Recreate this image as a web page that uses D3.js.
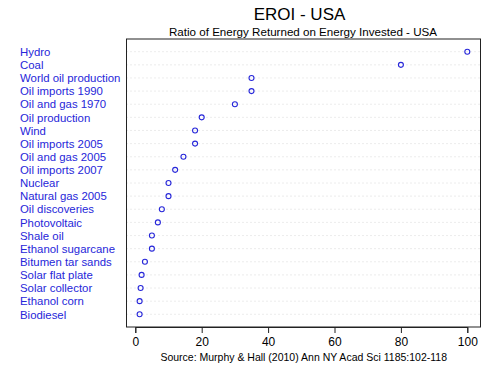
<!DOCTYPE html>
<html><head><meta charset="utf-8">
<script src="https://cdn.jsdelivr.net/npm/d3@7"></script>
<style>body{margin:0;background:#fff;} svg{display:block;font-family:"Liberation Sans",Arial,sans-serif;}</style>
</head><body><svg id="c" width="500" height="376"></svg>
<script>
const categories = ["Hydro","Coal","World oil production","Oil imports 1990","Oil and gas 1970","Oil production","Wind","Oil imports 2005","Oil and gas 2005","Oil imports 2007","Nuclear","Natural gas 2005","Oil discoveries","Photovoltaic","Shale oil","Ethanol sugarcane","Bitumen tar sands","Solar flat plate","Solar collector","Ethanol corn","Biodiesel"];
const eroi = [100,80,35,35,30,20,18,18,14.5,12,10,10,8,6.8,5,5,2.9,1.9,1.6,1.3,1.3];
const xTicks = [0,20,40,60,80,100];
const title = "EROI - USA";
const subtitle = "Ratio of Energy Returned on Energy Invested - USA";
const source = "Source: Murphy & Hall (2010) Ann NY Acad Sci 1185:102-118";

const svg = d3.select("#c");
const box = {l:126.5, r:480.5, t:39, b:327};
const x = d3.scaleLinear().domain([0,100]).range([135.3,467.3]);
const y = d3.scalePoint().domain(categories).range([51.7, 314.3]);
const blue = "#2626d9";

svg.append("text").attr("x",299.5).attr("y",20).attr("text-anchor","middle")
  .attr("font-size",17).attr("fill","#000").text(title);
svg.append("text").attr("x",303).attr("y",35.8).attr("text-anchor","middle")
  .attr("font-size",11.6).attr("fill","#000").text(subtitle);

// dotted guide lines
svg.append("g").selectAll("line").data(categories).join("line")
  .attr("x1",box.l).attr("x2",box.r).attr("y1",d=>y(d)).attr("y2",d=>y(d))
  .attr("stroke","#cfcfcf").attr("stroke-width",0.8).attr("stroke-dasharray","1,3");

svg.append("rect").attr("x",box.l).attr("y",box.t).attr("width",box.r-box.l).attr("height",box.b-box.t)
  .attr("fill","none").attr("stroke","#222").attr("stroke-width",1);

// labels
svg.append("g").selectAll("text").data(categories).join("text")
  .attr("x",20).attr("y",d=>y(d)+4.2)
  .attr("font-size",11.4).attr("fill",blue).text(d=>d);

// points
svg.append("g").selectAll("circle").data(eroi).join("circle")
  .attr("cx",d=>x(d)).attr("cy",(d,i)=>y(categories[i])).attr("r",2.5)
  .attr("fill","none").attr("stroke",blue).attr("stroke-width",1.1);

// axis
const ax = svg.append("g").attr("transform",`translate(0,${box.b})`)
  .call(d3.axisBottom(x).tickValues(xTicks).tickSize(6).tickPadding(4).tickFormat(d3.format("d")));
ax.select(".domain").attr("stroke","#222");
ax.selectAll(".tick line").attr("stroke","#222");
ax.selectAll("text").attr("font-size",12).attr("fill","#000").attr("font-family","Liberation Sans,Arial,sans-serif");

svg.append("text").attr("x",303.7).attr("y",360.5).attr("text-anchor","middle")
  .attr("font-size",10.5).attr("fill","#000").text(source);
</script></body></html>
